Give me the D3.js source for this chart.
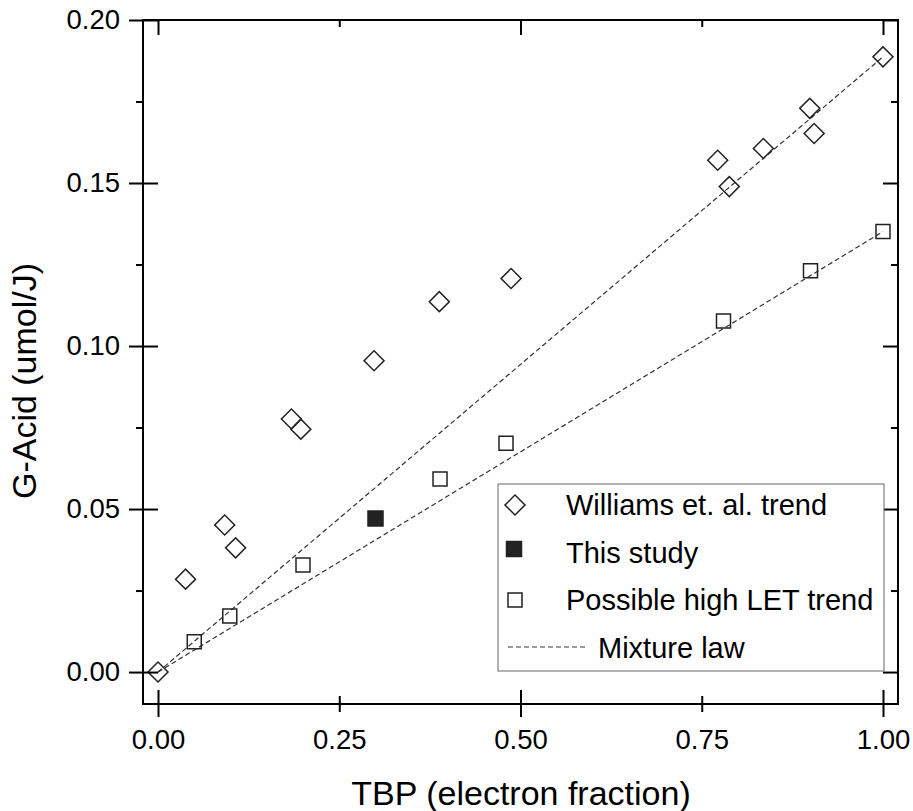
<!DOCTYPE html>
<html>
<head>
<meta charset="utf-8">
<script src="https://cdn.jsdelivr.net/npm/d3@7"></script>
<style>
  html, body { margin: 0; padding: 0; background: #fff; }
  svg { display: block; font-family: Arial, "Liberation Sans", sans-serif; }
</style>
</head>
<body>
<svg id="chart" width="913" height="811"></svg>
<script>
// Williams et al. data (open diamonds)
const williamsX = [0.000, 0.038, 0.092, 0.107, 0.184, 0.197, 0.298, 0.388, 0.487, 0.772, 0.788, 0.835, 0.899, 0.905, 1.000];
const williamsY = [0.0000, 0.0285, 0.0451, 0.0381, 0.0776, 0.0745, 0.0955, 0.1136, 0.1207, 0.1570, 0.1489, 0.1606, 0.1729, 0.1652, 0.1887];

// This study (filled square)
const studyX = [0.300];
const studyY = [0.0471];

// Possible high LET trend (open squares)
const highLetX = [0.050, 0.099, 0.200, 0.389, 0.480, 0.780, 0.900, 1.000];
const highLetY = [0.0093, 0.0172, 0.0328, 0.0592, 0.0702, 0.1077, 0.1231, 0.1351];

// Mixture law lines (linear in electron fraction)
const mixtureX = [0, 1];
const mixtureUpperY = [0, 0.1887];
const mixtureLowerY = [0, 0.1351];

// Axis ticks
const xTicks = [0, 0.25, 0.5, 0.75, 1.0];
const xLongTicks = [0, 0.5, 1.0];
const yTicks = [0, 0.05, 0.10, 0.15, 0.20];
const yMinorTicks = [0.025, 0.075, 0.125, 0.175];

const legendLabels = ["Williams et. al. trend", "This study", "Possible high LET trend", "Mixture law"];

const svg = d3.select("#chart");
const plotL = 143, plotR = 898, plotT = 20, plotB = 704;

const x = d3.scaleLinear().domain([-0.0207, 1.0207]).range([plotL, plotR]);
const y = d3.scaleLinear().domain([-0.0098, 0.20]).range([plotB, plotT]);

const ink = "#222";
const fmt = d3.format(".2f");

// Mixture law dashed lines
const line = d3.line().x(d => x(d[0])).y(d => y(d[1]));
[mixtureUpperY, mixtureLowerY].forEach(ys => {
  svg.append("path")
    .datum(mixtureX.map((v, i) => [v, ys[i]]))
    .attr("d", line)
    .attr("fill", "none")
    .attr("stroke", "#333")
    .attr("stroke-width", 1.2)
    .attr("stroke-dasharray", "5,3");
});

// Markers
const sq = d3.symbol().type(d3.symbolSquare);
function drawMarkers(xs, ys, size, rot, fill) {
  svg.append("g").selectAll("path")
    .data(xs.map((v, i) => [v, ys[i]]))
    .join("path")
    .attr("d", sq.size(size)())
    .attr("transform", d => `translate(${x(d[0])},${y(d[1])}) rotate(${rot})`)
    .attr("fill", fill)
    .attr("stroke", ink)
    .attr("stroke-width", 1.5);
}
drawMarkers(highLetX, highLetY, 196, 0, "none");
drawMarkers(williamsX, williamsY, 200, 45, "none");
drawMarkers(studyX, studyY, 225, 0, ink);

// Frame
svg.append("rect")
  .attr("x", plotL).attr("y", plotT)
  .attr("width", plotR - plotL).attr("height", plotB - plotT)
  .attr("fill", "none").attr("stroke", "#000").attr("stroke-width", 2);

// Bottom axis: labels + crossing ticks
const gx = svg.append("g").attr("transform", `translate(0,${plotB})`)
  .call(d3.axisBottom(x).tickValues(xTicks).tickFormat(fmt).tickSizeInner(13).tickSizeOuter(0).tickPadding(12.5));
gx.select(".domain").remove();
gx.selectAll(".tick line")
  .attr("y1", d => xLongTicks.includes(d) ? -14 : -8)
  .attr("y2", d => xLongTicks.includes(d) ? 13 : 8)
  .attr("stroke", "#000").attr("stroke-width", 2);
gx.selectAll(".tick text").attr("font-size", 27.5).attr("fill", "#000");
gx.attr("font-family", null).attr("font-size", null);

// Top axis: inward ticks
const gt = svg.append("g").attr("transform", `translate(0,${plotT})`)
  .call(d3.axisTop(x).tickValues(xTicks).tickFormat("").tickSizeOuter(0));
gt.select(".domain").remove();
gt.selectAll(".tick line")
  .attr("y2", d => xLongTicks.includes(d) ? 15 : 7)
  .attr("stroke", "#000").attr("stroke-width", 2);

// Left axis: labels + crossing major ticks, outward minor ticks
const gy = svg.append("g").attr("transform", `translate(${plotL},0)`)
  .call(d3.axisLeft(y).tickValues(yTicks).tickFormat(fmt).tickSizeInner(14).tickSizeOuter(0).tickPadding(9));
gy.select(".domain").remove();
gy.selectAll(".tick line").attr("x1", 15).attr("stroke", "#000").attr("stroke-width", 2);
gy.selectAll(".tick text").attr("font-size", 27.5).attr("fill", "#000");
gy.attr("font-family", null).attr("font-size", null);

const gym = svg.append("g").attr("transform", `translate(${plotL},0)`)
  .call(d3.axisLeft(y).tickValues(yMinorTicks).tickFormat("").tickSizeInner(7).tickSizeOuter(0));
gym.select(".domain").remove();
gym.selectAll(".tick line").attr("stroke", "#000").attr("stroke-width", 2);

// Right axis: inward ticks
const gr = svg.append("g").attr("transform", `translate(${plotR},0)`)
  .call(d3.axisRight(y).tickValues(yTicks).tickFormat("").tickSizeInner(-15).tickSizeOuter(0));
gr.select(".domain").remove();
gr.selectAll(".tick line").attr("stroke", "#000").attr("stroke-width", 2);
const grm = svg.append("g").attr("transform", `translate(${plotR},0)`)
  .call(d3.axisRight(y).tickValues(yMinorTicks).tickFormat("").tickSizeInner(-7).tickSizeOuter(0));
grm.select(".domain").remove();
grm.selectAll(".tick line").attr("stroke", "#000").attr("stroke-width", 2);

// Axis titles
svg.append("text")
  .attr("x", 521).attr("y", 805)
  .attr("text-anchor", "middle").attr("font-size", 34).attr("fill", "#000")
  .text("TBP (electron fraction)");
svg.append("text")
  .attr("transform", "translate(36,381) rotate(-90)")
  .attr("text-anchor", "middle").attr("font-size", 34).attr("fill", "#000")
  .text("G-Acid (umol/J)");

// Legend
const lg = svg.append("g");
lg.append("rect")
  .attr("x", 498).attr("y", 484).attr("width", 386).attr("height", 187)
  .attr("fill", "#fff").attr("stroke", "#666").attr("stroke-width", 1);
const rowY = [515, 563, 610, 658];
lg.append("path").attr("d", sq.size(200)())
  .attr("transform", `translate(515,505) rotate(45)`)
  .attr("fill", "none").attr("stroke", ink).attr("stroke-width", 1.5);
lg.append("path").attr("d", sq.size(225)())
  .attr("transform", `translate(514,549)`)
  .attr("fill", ink).attr("stroke", ink).attr("stroke-width", 1.5);
lg.append("path").attr("d", sq.size(196)())
  .attr("transform", `translate(515,600)`)
  .attr("fill", "none").attr("stroke", ink).attr("stroke-width", 1.5);
lg.append("line")
  .attr("x1", 508).attr("x2", 587).attr("y1", 647).attr("y2", 647)
  .attr("stroke", "#333").attr("stroke-width", 1.2).attr("stroke-dasharray", "5,3");
lg.selectAll("text.lab")
  .data(legendLabels)
  .join("text")
  .attr("class", "lab")
  .attr("x", (d, i) => i === 3 ? 598 : 566)
  .attr("y", (d, i) => rowY[i])
  .attr("font-size", 29).attr("fill", "#000")
  .text(d => d);
</script>
</body>
</html>
